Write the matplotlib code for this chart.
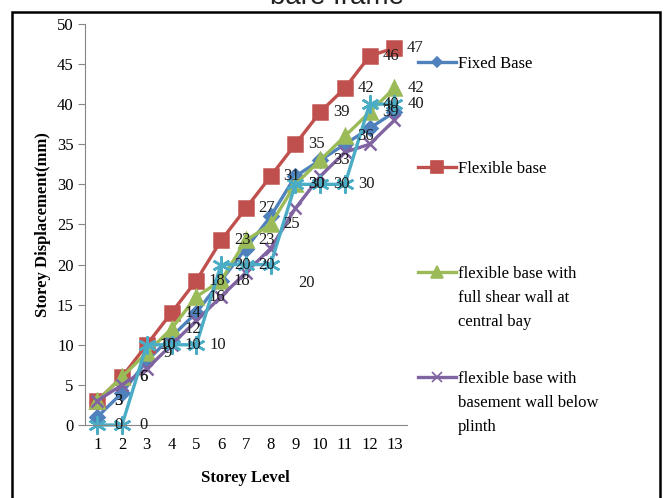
import matplotlib.pyplot as plt
from matplotlib.lines import Line2D
from matplotlib.patches import Rectangle

storeys = list(range(1, 14))

fixed_base = [1, 4, 8, 11, 14, 18, 22, 26, 31, 33, 35, 37, 39]
flexible_base = [3, 6, 10, 14, 18, 23, 27, 31, 35, 39, 42, 46, 47]
shear_wall = [3, 6, 9, 12, 16, 18, 23, 25, 30, 33, 36, 39, 42]
basement_wall = [3, 5, 7, 10, 13, 16, 19, 22, 27, 31, 34, 35, 38]
bare_frame = [0, 0, 10, 10, 10, 20, 20, 20, 30, 30, 30, 40, 40]

names = ["Fixed Base", "Flexible base",
         "flexible base with\nfull shear wall at\ncentral bay",
         "flexible base with\nbasement wall below\nplinth"]

SERIF = "Liberation Serif"
FS = 12

fig = plt.figure(figsize=(6.68, 4.98), dpi=100)
ax = fig.add_axes([0.127, 0.1466, 0.482, 0.8054])

styles = [
    (fixed_base, "#4F81BD", "D", 7),
    (flexible_base, "#C0504D", "s", 10),
    (shear_wall, "#9BBB59", "^", 10),
    (basement_wall, "#8064A2", "x", 9),
    (bare_frame, "#4BACC6", (6, 2, 0), 13),
]

lines = []
for vals, col, mk, ms in styles:
    ln, = ax.plot(storeys, vals, color=col, lw=2.4, marker=mk, ms=ms,
                  mec=col, mfc=col, mew=1.8, clip_on=False)
    lines.append(ln)

# data labels (only these three series carry labels in the original)
def put_labels(vals, shift=None):
    shift = shift or {}
    for i, (x, v) in enumerate(zip(storeys, vals)):
        dx, dy = shift.get(i, (0.0, 0.0))
        ax.text(x + 0.85 + dx, v + dy, str(v), ha="center", va="center",
                fontsize=FS, family=SERIF, color="#1a1a1a", clip_on=False)

put_labels(flexible_base)
put_labels(shear_wall)
put_labels(bare_frame, shift={7: (0.6, -2.3)})

ax.set_xlim(0.5, 13.5)
ax.set_ylim(0, 50)
ax.set_xticks(storeys)
ax.set_yticks(range(0, 51, 5))
for s in ["top", "right"]:
    ax.spines[s].set_visible(False)
for s in ["left", "bottom"]:
    ax.spines[s].set_color("#868686")
ax.tick_params(axis="y", length=5, color="#868686", labelsize=FS, pad=3)
ax.tick_params(axis="x", length=0, labelsize=FS, pad=9)
for lb in ax.get_xticklabels() + ax.get_yticklabels():
    lb.set_family(SERIF)

ax.set_xlabel("Storey Level", family=SERIF, fontsize=FS, fontweight="bold",
              labelpad=12)
ax.set_ylabel("Storey Displacement(mm)", family=SERIF, fontsize=FS,
              fontweight="bold", labelpad=4)

# legend drawn by hand to match the spaced-out layout
W, H = 668, 498
for k, name in enumerate(names):
    ln = lines[k]
    yp = 62 + 105 * k
    fy = 1 - yp / H
    fig.add_artist(Line2D([418 / W, 456 / W], [fy, fy], color=ln.get_color(),
                          lw=2.4, transform=fig.transFigure))
    fig.add_artist(Line2D([437 / W], [fy], color=ln.get_color(),
                          marker=ln.get_marker(), ms=ln.get_markersize() * 0.8,
                          mew=1.2, transform=fig.transFigure))
    fig.text(458 / W, fy + 6 / H, name, ha="left", va="top", fontsize=FS,
             family=SERIF, linespacing=1.68)

# outer frame and clipped title from the source page
fig.add_artist(Rectangle((12 / W, -0.05), 648 / W, 1.05 - 12 / H, fill=False,
                         ec="black", lw=1.8, transform=fig.transFigure))
fig.text(0.505, 1 - 4.5 / H, "bare frame", ha="center", va="baseline",
         fontsize=20, family="Liberation Sans", color="#222222")

fig.savefig("out.png", dpi=100)
